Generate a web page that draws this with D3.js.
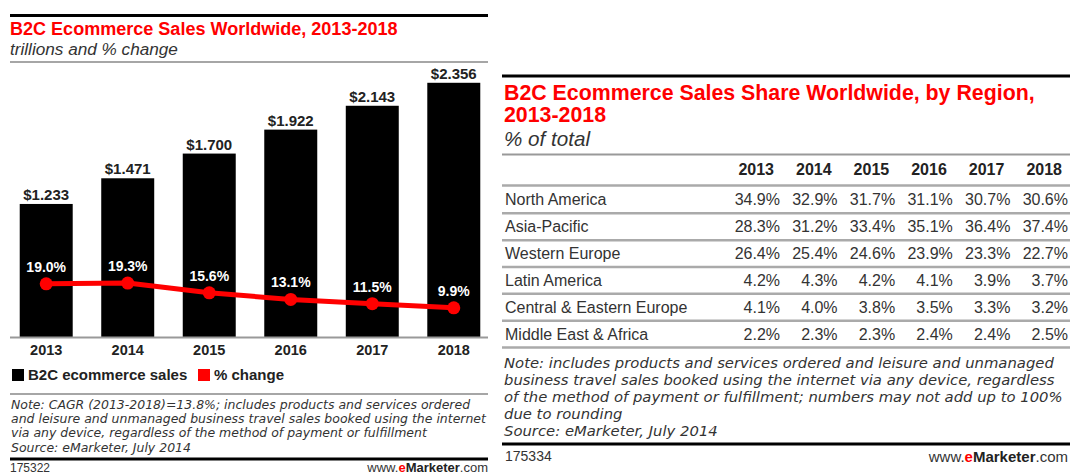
<!DOCTYPE html>
<html>
<head>
<meta charset="utf-8">
<script src="https://cdn.jsdelivr.net/npm/d3@7"></script>
<style>
  html, body { margin: 0; padding: 0; background: #fff; }
  svg { display: block; font-family: "Liberation Sans", Arial, sans-serif; }
</style>
</head>
<body>
<svg id="chart" width="1070" height="474"></svg>
<script>
// ---------- data ----------
const years = ["2013", "2014", "2015", "2016", "2017", "2018"];
const sales = [1.233, 1.471, 1.700, 1.922, 2.143, 2.356];
const pctChange = [19.0, 19.3, 15.6, 13.1, 11.5, 9.9];
const legendLabels = ["B2C ecommerce sales", "% change"];

const regions = ["North America", "Asia-Pacific", "Western Europe", "Latin America",
                 "Central & Eastern Europe", "Middle East & Africa"];
const northAmerica = [34.9, 32.9, 31.7, 31.1, 30.7, 30.6];
const asiaPacific = [28.3, 31.2, 33.4, 35.1, 36.4, 37.4];
const westernEurope = [26.4, 25.4, 24.6, 23.9, 23.3, 22.7];
const latinAmerica = [4.2, 4.3, 4.2, 4.1, 3.9, 3.7];
const centralEasternEurope = [4.1, 4.0, 3.8, 3.5, 3.3, 3.2];
const middleEastAfrica = [2.2, 2.3, 2.3, 2.4, 2.4, 2.5];
const shares = [northAmerica, asiaPacific, westernEurope, latinAmerica, centralEasternEurope, middleEastAfrica];

const leftTitle = "B2C Ecommerce Sales Worldwide, 2013-2018";
const leftSubtitle = "trillions and % change";
const leftNotes = [
  "Note: CAGR (2013-2018)=13.8%; includes products and services ordered",
  "and leisure and unmanaged business travel sales booked using the internet",
  "via any device, regardless of the method of payment or fulfillment",
  "Source: eMarketer, July 2014"
];
const rightTitle = ["B2C Ecommerce Sales Share Worldwide, by Region,", "2013-2018"];
const rightSubtitle = "% of total";
const rightNotes = [
  "Note: includes products and services ordered and leisure and unmanaged",
  "business travel sales booked using the internet via any device, regardless",
  "of the method of payment or fulfillment; numbers may not add up to 100%",
  "due to rounding",
  "Source: eMarketer, July 2014"
];

// ---------- helpers ----------
const svg = d3.select("#chart");
const RED = "#ff0000";
const TXT = "#222";
const NOTE_FONT = "'DejaVu Sans', Verdana, sans-serif";

function fitFont(sel, target) {
  const node = sel.node();
  const fs = parseFloat(sel.attr("font-size"));
  const w = node.getComputedTextLength();
  if (w > 0) sel.attr("font-size", (fs * target / w).toFixed(2));
  return parseFloat(sel.attr("font-size"));
}
function hline(x1, x2, y, color, width) {
  svg.append("line").attr("x1", x1).attr("x2", x2).attr("y1", y).attr("y2", y)
    .attr("stroke", color).attr("stroke-width", width);
}
function brand(xRight, y, size) {
  const t = svg.append("text").attr("x", xRight).attr("y", y).attr("text-anchor", "end")
    .attr("font-size", size).attr("fill", "#333");
  t.append("tspan").text("www.");
  t.append("tspan").attr("font-weight", "bold").attr("fill", RED).text("e");
  t.append("tspan").attr("font-weight", "bold").attr("fill", "#222").text("Marketer");
  t.append("tspan").text(".com");
}

// ================= LEFT PANEL =================
hline(10, 488, 15.5, "#000", 3);
const lt = svg.append("text").attr("x", 10).attr("y", 35).attr("font-size", 18)
  .attr("font-weight", "bold").attr("fill", RED).text(leftTitle);
fitFont(lt, 388);
const ls = svg.append("text").attr("x", 10).attr("y", 55).attr("font-size", 17)
  .attr("font-style", "italic").attr("fill", "#333").text(leftSubtitle);
fitFont(ls, 168);
hline(10, 488, 62, "#888", 1.5);

const x = d3.scaleBand().domain(years).range([11, 489]).paddingInner(0.35).paddingOuter(0.107);
const y = d3.scaleLinear().domain([0, 2.5]).range([337, 67.25]);
const yPct = d3.scaleLinear().domain([0, 20]).range([334, 281.2]);

const g = svg.append("g");
g.selectAll("rect.bar").data(sales).join("rect").attr("class", "bar")
  .attr("x", (d, i) => x(years[i])).attr("width", x.bandwidth())
  .attr("y", d => y(d)).attr("height", d => y(0) - y(d)).attr("fill", "#000");

g.selectAll("text.val").data(sales).join("text").attr("class", "val")
  .attr("x", (d, i) => x(years[i]) + x.bandwidth() / 2).attr("y", d => y(d) - 4)
  .attr("text-anchor", "middle").attr("font-size", 15).attr("font-weight", "bold")
  .attr("fill", TXT).text(d => "$" + d3.format(".3f")(d));

hline(10, 488, 337.5, "#999", 2);

g.selectAll("text.year").data(years).join("text").attr("class", "year")
  .attr("x", d => x(d) + x.bandwidth() / 2).attr("y", 354.5)
  .attr("text-anchor", "middle").attr("font-size", 14.5).attr("font-weight", "bold")
  .attr("fill", TXT).text(d => d);

const line = d3.line().x((d, i) => x(years[i]) + x.bandwidth() / 2).y(d => yPct(d));
g.append("path").datum(pctChange).attr("d", line).attr("fill", "none")
  .attr("stroke", RED).attr("stroke-width", 5).attr("stroke-linejoin", "round");
g.selectAll("circle.pt").data(pctChange).join("circle").attr("class", "pt")
  .attr("cx", (d, i) => x(years[i]) + x.bandwidth() / 2).attr("cy", d => yPct(d))
  .attr("r", 6.5).attr("fill", RED);
g.selectAll("text.pct").data(pctChange).join("text").attr("class", "pct")
  .attr("x", (d, i) => x(years[i]) + x.bandwidth() / 2).attr("y", d => yPct(d) - 12)
  .attr("text-anchor", "middle").attr("font-size", 14).attr("font-weight", "bold")
  .attr("fill", "#fff").text(d => d3.format(".1f")(d) + "%");

// legend
const legColors = ["#000", RED];
const legX = [12, 198];
legendLabels.forEach((lab, i) => {
  svg.append("rect").attr("x", legX[i]).attr("y", 369).attr("width", 12).attr("height", 12)
    .attr("fill", legColors[i]);
  svg.append("text").attr("x", legX[i] + 16).attr("y", 380).attr("font-size", 15)
    .attr("font-weight", "bold").attr("fill", TXT).text(lab);
});

hline(10, 488, 394, "#888", 1.5);
const ln = leftNotes.map((t, i) => svg.append("text").attr("x", 11).attr("y", 409 + i * 14.2)
  .attr("font-family", NOTE_FONT)
  .attr("font-size", 12).attr("font-style", "italic").attr("fill", "#333").text(t));
const lfs = fitFont(ln[1], 475);
ln.forEach(s => s.attr("font-size", lfs));
hline(10, 488, 459, "#000", 3);
svg.append("text").attr("x", 10).attr("y", 472).attr("font-size", 12).attr("fill", "#333").text("175322");
brand(488, 472, 13);

// ================= RIGHT PANEL =================
hline(502, 1070, 76, "#000", 3);
const rt = rightTitle.map((t, i) => svg.append("text").attr("x", 504).attr("y", 99.5 + i * 22.5)
  .attr("font-size", 21).attr("font-weight", "bold").attr("fill", RED).text(t));
const rfs = fitFont(rt[0], 531);
rt.forEach(s => s.attr("font-size", rfs));
const rs = svg.append("text").attr("x", 504).attr("y", 145.5).attr("font-size", 20)
  .attr("font-style", "italic").attr("fill", "#333").text(rightSubtitle);
fitFont(rs, 86);
hline(502, 1070, 154.5, "#999", 2);

const col = d3.scaleBand().domain(years).range([722.4, 1068]);
const row = d3.scaleBand().domain(regions).range([186.5, 347.5]);

svg.append("g").selectAll("text").data(years).join("text")
  .attr("x", d => col(d) + col.bandwidth() - 6).attr("y", 175)
  .attr("text-anchor", "end").attr("font-size", 16).attr("font-weight", "bold")
  .attr("fill", TXT).text(d => d);
hline(502, 1070, 185.5, "#aaa", 2.5);

const rows = svg.append("g").selectAll("g").data(regions).join("g")
  .attr("transform", d => `translate(0,${row(d)})`);
rows.append("text").attr("x", 505).attr("y", row.bandwidth() / 2 + 5.5)
  .attr("font-size", 16).attr("fill", "#333").text(d => d);
rows.selectAll("text.v").data((d, i) => shares[i]).join("text").attr("class", "v")
  .attr("x", (v, j) => col(years[j]) + col.bandwidth()).attr("y", row.bandwidth() / 2 + 5.5)
  .attr("text-anchor", "end").attr("font-size", 16).attr("fill", "#333")
  .text(v => d3.format(".1f")(v) + "%");
rows.append("line").attr("x1", 502).attr("x2", 1070)
  .attr("y1", row.bandwidth()).attr("y2", row.bandwidth())
  .attr("stroke", "#aaa").attr("stroke-width", 2.5);

const rn = rightNotes.map((t, i) => svg.append("text").attr("x", 504).attr("y", 367.5 + i * 17.2)
  .attr("font-family", NOTE_FONT)
  .attr("font-size", 14).attr("font-style", "italic").attr("fill", "#333").text(t));
const rnfs = fitFont(rn[2], 559);
rn.forEach(s => s.attr("font-size", rnfs));
hline(502, 1070, 444, "#000", 3);
svg.append("text").attr("x", 505).attr("y", 461).attr("font-size", 14).attr("fill", "#333").text("175334");
brand(1068, 462, 15);
</script>
</body>
</html>
